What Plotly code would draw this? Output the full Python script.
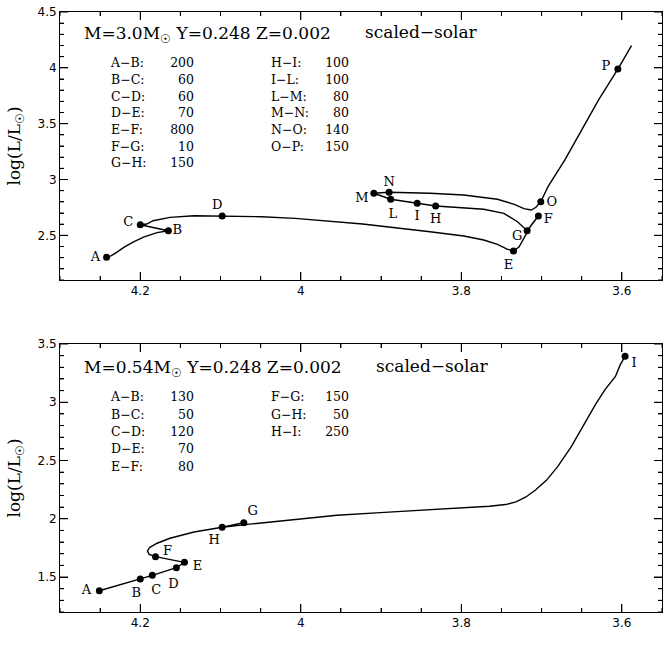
import numpy as np
import plotly.graph_objects as go

# ---------------- data: top panel (M=3.0 Msun) ----------------
top_track_x = [4.242, 4.236, 4.229, 4.220, 4.209, 4.196, 4.179, 4.165, 4.200, 4.192, 4.184,
               4.163, 4.133, 4.098, 4.049, 4.007, 3.923, 3.839, 3.797, 3.772, 3.755,
               3.743, 3.735, 3.728, 3.722, 3.713, 3.704, 3.718, 3.730, 3.747, 3.772,
               3.797, 3.832, 3.855, 3.888, 3.909, 3.890, 3.839, 3.797, 3.755, 3.734,
               3.722, 3.713, 3.707, 3.701, 3.692, 3.671, 3.650, 3.629, 3.605, 3.588]
top_track_y = [2.303, 2.318, 2.350, 2.395, 2.440, 2.484, 2.524, 2.541, 2.595, 2.601, 2.631,
               2.661, 2.676, 2.673, 2.667, 2.652, 2.601, 2.532, 2.494, 2.458, 2.419,
               2.377, 2.359, 2.398, 2.473, 2.592, 2.673, 2.541, 2.622, 2.697, 2.733,
               2.748, 2.763, 2.787, 2.823, 2.877, 2.886, 2.877, 2.861, 2.823, 2.778,
               2.739, 2.727, 2.751, 2.801, 2.936, 3.175, 3.444, 3.713, 3.989, 4.198]
top_pt_names = ["A", "B", "C", "D", "E", "F", "G", "H", "I", "L", "M", "N", "O", "P"]
top_pt_x = [4.242, 4.165, 4.200, 4.098, 3.735, 3.704, 3.718, 3.832, 3.855, 3.888, 3.909, 3.890, 3.701, 3.605]
top_pt_y = [2.303, 2.541, 2.595, 2.673, 2.359, 2.673, 2.541, 2.763, 2.787, 2.823, 2.877, 2.886, 2.801, 3.989]
top_seg1 = ["A−B:", "B−C:", "C−D:", "D−E:", "E−F:", "F−G:", "G−H:"]
top_dur1 = [200, 60, 60, 70, 800, 10, 150]
top_seg2 = ["H−I:", "I−L:", "L−M:", "M−N:", "N−O:", "O−P:"]
top_dur2 = [100, 100, 80, 80, 140, 150]
top_title = "M=3.0M<sub>☉</sub> Y=0.248 Z=0.002"

# ---------------- data: bottom panel (M=0.54 Msun) ----------------
bot_track_x = [4.251, 4.200, 4.185, 4.155, 4.145, 4.181, 4.189, 4.191, 4.188, 4.179,
               4.163, 4.133, 4.112, 4.098, 4.071, 4.098, 4.061, 4.008, 3.955, 3.901,
               3.848, 3.795, 3.765, 3.745, 3.732, 3.720, 3.708, 3.694, 3.680, 3.663,
               3.646, 3.633, 3.621, 3.608, 3.602, 3.596]
bot_track_y = [1.382, 1.483, 1.515, 1.580, 1.626, 1.675, 1.695, 1.726, 1.755, 1.790,
               1.833, 1.887, 1.913, 1.927, 1.967, 1.927, 1.956, 1.996, 2.030, 2.053,
               2.073, 2.096, 2.108, 2.122, 2.145, 2.185, 2.245, 2.330, 2.448, 2.620,
               2.821, 2.979, 3.108, 3.222, 3.323, 3.394]
bot_pt_names = ["A", "B", "C", "D", "E", "F", "G", "H", "I"]
bot_pt_x = [4.251, 4.200, 4.185, 4.155, 4.145, 4.181, 4.071, 4.098, 3.596]
bot_pt_y = [1.382, 1.483, 1.515, 1.580, 1.626, 1.675, 1.967, 1.927, 3.394]
bot_seg1 = ["A−B:", "B−C:", "C−D:", "D−E:", "E−F:"]
bot_dur1 = [130, 50, 120, 70, 80]
bot_seg2 = ["F−G:", "G−H:", "H−I:"]
bot_dur2 = [150, 50, 250]
bot_title = "M=0.54M<sub>☉</sub> Y=0.248 Z=0.002"
subtitle = "scaled−solar"
x_title = "log(T<sub>eff</sub>)"
y_title = "log(L/L<sub>☉</sub>)"

x_major = [4.2, 4.0, 3.8, 3.6]
top_y_major = [2.5, 3.0, 3.5, 4.0, 4.5]
bot_y_major = [1.5, 2.0, 2.5, 3.0, 3.5]

# ---------------- styling / layout ----------------
W, H = 664, 659
ML, MR, MT, MB = 60, 2, 12, 47
PW, PH = W - ML - MR, H - MT - MB
PANEL_H = 268
X_RANGE = [4.30, 3.55]
TOP_YR = [2.1, 4.5]
BOT_YR = [1.2, 3.5]
TOP_Y0 = 12          # pixel row of top frame, upper panel
BOT_Y0 = 344         # pixel row of top frame, lower panel

SERIF = "DejaVu Serif"
SANS = "DejaVu Sans"


def dx_px(p):   # pixel column -> data x
    return X_RANGE[0] + (p - ML) / PW * (X_RANGE[1] - X_RANGE[0])


def dy_px(p, y0, yr):   # pixel row -> data y
    return yr[1] - (p - y0) / PANEL_H * (yr[1] - yr[0])


XS = (X_RANGE[0] - X_RANGE[1]) / PW        # data per pixel along x


top_off = {"A": (-11, 0), "B": (9, 0), "C": (-12, -2), "D": (-5, -10), "E": (-5, 15),
           "F": (10, 4), "G": (-10, 6), "H": (0, 14), "I": (0, 13), "L": (2, 15),
           "M": (-12, 6), "N": (0, -9), "O": (11, 1), "P": (-12, -2)}
bot_off = {"A": (-13, 0), "B": (-4, 15), "C": (4, 15), "D": (-3, 17), "E": (13, 4),
           "F": (12, -5), "G": (9, -11), "H": (-8, 13), "I": (9, 7)}

fig = go.Figure()
line_style = dict(color="black", width=1.4)
mk = dict(color="black", size=7)

fig.add_trace(go.Scatter(x=top_track_x, y=top_track_y, mode="lines", line=line_style,
                         xaxis="x", yaxis="y", hoverinfo="skip"))
fig.add_trace(go.Scatter(x=top_pt_x, y=top_pt_y, mode="markers", marker=mk,
                         xaxis="x", yaxis="y"))
fig.add_trace(go.Scatter(x=bot_track_x, y=bot_track_y, mode="lines", line=line_style,
                         xaxis="x2", yaxis="y2", hoverinfo="skip"))
fig.add_trace(go.Scatter(x=bot_pt_x, y=bot_pt_y, mode="markers", marker=mk,
                         xaxis="x2", yaxis="y2"))


def text_trace(xs, ys, texts, pos, size, xa, ya):
    fig.add_trace(go.Scatter(x=xs, y=ys, text=texts, mode="text", textposition=pos,
                             textfont=dict(family=SERIF, size=size, color="black"),
                             marker=dict(size=0), cliponaxis=False, hoverinfo="skip",
                             xaxis=xa, yaxis=ya))


# point labels (offsets in pixels converted to data units)
for names, xs, ys, off, yr, xa, ya in [
        (top_pt_names, top_pt_x, top_pt_y, top_off, TOP_YR, "x", "y"),
        (bot_pt_names, bot_pt_x, bot_pt_y, bot_off, BOT_YR, "x2", "y2")]:
    ysc = (yr[1] - yr[0]) / PANEL_H
    lx = [xv - off[n][0] * XS for n, xv in zip(names, xs)]
    ly = [yv - off[n][1] * ysc for n, yv in zip(names, ys)]
    text_trace(lx, ly, names, "middle center", 13, xa, ya)


def legend_block(segs, durs, x_lab, x_val, py0, dpy, y0, yr, xa, ya):
    rows_y = [dy_px(py0 + i * dpy, y0, yr) for i in range(len(segs))]
    text_trace([dx_px(x_lab)] * len(segs), rows_y, segs, "middle right", 12.5, xa, ya)
    text_trace([dx_px(x_val)] * len(segs), rows_y, [str(d) for d in durs], "middle left", 12.5, xa, ya)


legend_block(top_seg1, top_dur1, 111, 194, 64, 16.7, TOP_Y0, TOP_YR, "x", "y")
legend_block(top_seg2, top_dur2, 271, 349, 64, 16.7, TOP_Y0, TOP_YR, "x", "y")
legend_block(bot_seg1, bot_dur1, 111, 194, 398.3, 17.35, BOT_Y0, BOT_YR, "x2", "y2")
legend_block(bot_seg2, bot_dur2, 271, 349, 398.3, 17.35, BOT_Y0, BOT_YR, "x2", "y2")

# panel titles
text_trace([dx_px(84)], [dy_px(35, TOP_Y0, TOP_YR)], [top_title], "middle right", 17, "x", "y")
text_trace([dx_px(365)], [dy_px(34, TOP_Y0, TOP_YR)], [subtitle], "middle right", 17, "x", "y")
text_trace([dx_px(84)], [dy_px(369, BOT_Y0, BOT_YR)], [bot_title], "middle right", 17, "x2", "y2")
text_trace([dx_px(376)], [dy_px(368, BOT_Y0, BOT_YR)], [subtitle], "middle right", 17, "x2", "y2")

# x-axis titles (below the frames)
text_trace([dx_px(375)], [dy_px(304, TOP_Y0, TOP_YR)], [x_title], "middle center", 17, "x", "y")
text_trace([dx_px(375)], [dy_px(640, BOT_Y0, BOT_YR)], [x_title], "middle center", 17, "x2", "y2")

top_dom = [1 - PANEL_H / PH, 1]
bot_dom = [0, PANEL_H / PH]

common = dict(showline=True, linecolor="black", mirror="allticks",
              ticks="inside", ticklen=8, tickcolor="black", gridcolor="white",
              zeroline=False, tickfont=dict(family=SANS, size=12, color="black"))
xa_cfg = dict(common, range=X_RANGE, tickmode="array", tickvals=x_major,
              minor=dict(ticks="inside", ticklen=4, dtick=0.05, tickcolor="black"))


def ya_cfg(rng, tv, dom):
    return dict(common, range=rng, tickmode="array", tickvals=tv, domain=dom,
                title=dict(text=y_title, standoff=12,
                           font=dict(family=SERIF, size=17, color="black")),
                minor=dict(ticks="inside", ticklen=4, dtick=0.1, tickcolor="black"))


# frame tick marks drawn as thin lines as well (inside, on all four sides)
def frame_ticks(xr, yr, yrange, ymaj):
    shp = []
    xmin = np.round(np.arange(3.55, 4.3001, 0.05), 2)
    ymin = np.round(np.arange(np.ceil(yrange[0] * 10) / 10, yrange[1] + 1e-6, 0.1), 1)
    tick_style = dict(color="black", width=1)
    for v in xmin:
        ln = 8 if any(abs(v - m) < 1e-6 for m in x_major) else 4
        f = ln / PANEL_H
        for a, b in [(0, f), (1 - f, 1)]:
            shp.append(dict(type="line", xref=xr, yref=yr + " domain", x0=v, x1=v, y0=a, y1=b,
                            line=tick_style, layer="above"))
    for v in ymin:
        ln = 8 if any(abs(v - m) < 1e-6 for m in ymaj) else 4
        f = ln / PW
        for a, b in [(0, f), (1 - f, 1)]:
            shp.append(dict(type="line", xref=xr + " domain", yref=yr, x0=a, x1=b, y0=v, y1=v,
                            line=tick_style, layer="above"))
    return shp


shapes = frame_ticks("x", "y", TOP_YR, top_y_major) + frame_ticks("x2", "y2", BOT_YR, bot_y_major)

fig.update_layout(
    width=W, height=H, margin=dict(l=ML, r=MR, t=MT, b=MB),
    plot_bgcolor="white", showlegend=False,
    xaxis=dict(xa_cfg, anchor="y"),
    yaxis=ya_cfg(TOP_YR, top_y_major, top_dom),
    xaxis2=dict(xa_cfg, anchor="y2"),
    yaxis2=ya_cfg(BOT_YR, bot_y_major, bot_dom),
    shapes=shapes,
)

fig.write_html("out.html")
